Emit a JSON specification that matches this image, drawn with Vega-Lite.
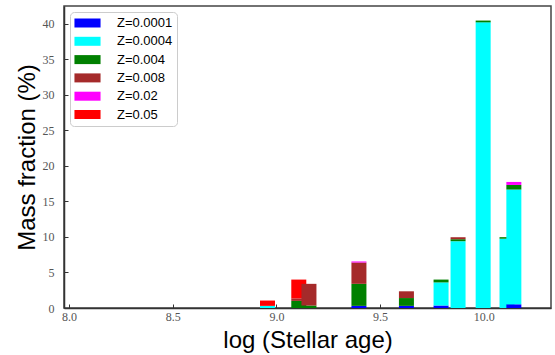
{
  "$schema": "https://vega.github.io/schema/vega-lite/v6.json",
  "width": 487,
  "height": 302,
  "autosize": {"type": "none"},
  "padding": {"left": 64, "top": 6, "right": 4, "bottom": 47},
  "background": "white",
  "data": {
    "values": [
      {"age": 8.957, "Z": "Z=0.0004", "frac": 0.3},
      {"age": 8.957, "Z": "Z=0.05", "frac": 0.75},
      {"age": 9.108, "Z": "Z=0.004", "frac": 1.0},
      {"age": 9.108, "Z": "Z=0.008", "frac": 0.35},
      {"age": 9.108, "Z": "Z=0.05", "frac": 2.65},
      {"age": 9.157, "Z": "Z=0.004", "frac": 0.35},
      {"age": 9.157, "Z": "Z=0.008", "frac": 3.05},
      {"age": 9.398, "Z": "Z=0.0001", "frac": 0.3},
      {"age": 9.398, "Z": "Z=0.004", "frac": 3.1},
      {"age": 9.398, "Z": "Z=0.008", "frac": 3.0},
      {"age": 9.398, "Z": "Z=0.02", "frac": 0.15},
      {"age": 9.627, "Z": "Z=0.0001", "frac": 0.3},
      {"age": 9.627, "Z": "Z=0.004", "frac": 1.1},
      {"age": 9.627, "Z": "Z=0.008", "frac": 0.95},
      {"age": 9.794, "Z": "Z=0.0001", "frac": 0.35},
      {"age": 9.794, "Z": "Z=0.0004", "frac": 3.25},
      {"age": 9.794, "Z": "Z=0.004", "frac": 0.4},
      {"age": 9.876, "Z": "Z=0.0004", "frac": 9.4},
      {"age": 9.876, "Z": "Z=0.004", "frac": 0.28},
      {"age": 9.876, "Z": "Z=0.008", "frac": 0.28},
      {"age": 9.997, "Z": "Z=0.0004", "frac": 40.2},
      {"age": 9.997, "Z": "Z=0.004", "frac": 0.25},
      {"age": 10.112, "Z": "Z=0.0004", "frac": 9.75},
      {"age": 10.112, "Z": "Z=0.004", "frac": 0.22},
      {"age": 10.145, "Z": "Z=0.0001", "frac": 0.52},
      {"age": 10.145, "Z": "Z=0.0004", "frac": 16.15},
      {"age": 10.145, "Z": "Z=0.004", "frac": 0.65},
      {"age": 10.145, "Z": "Z=0.02", "frac": 0.42}
    ]
  },
  "mark": {"type": "bar", "size": 15, "opacity": 1},
  "encoding": {
    "x": {
      "field": "age",
      "type": "quantitative",
      "scale": {"domain": [8.0, 10.3], "nice": false, "zero": false},
      "axis": {
        "title": "log (Stellar age)",
        "values": [8.0, 8.5, 9.0, 9.5, 10.0],
        "format": ".1f",
        "labelPadding": 7,
        "titlePadding": 6
      }
    },
    "y": {
      "field": "frac",
      "type": "quantitative",
      "stack": "zero",
      "scale": {"domain": [0, 42.5], "nice": false},
      "axis": {
        "title": "Mass fraction (%)",
        "values": [0, 5, 10, 15, 20, 25, 30, 35, 40],
        "format": "d",
        "labelPadding": 14,
        "titlePadding": 3
      }
    },
    "color": {
      "field": "Z",
      "type": "nominal",
      "scale": {
        "domain": ["Z=0.0001", "Z=0.0004", "Z=0.004", "Z=0.008", "Z=0.02", "Z=0.05"],
        "range": ["#0000ff", "#00ffff", "#008000", "#a52a2a", "#ff00ff", "#ff0000"]
      },
      "legend": {
        "title": null,
        "orient": "top-left",
        "offset": 6
      }
    },
    "order": {"field": "Z", "sort": "ascending"}
  },
  "config": {
    "view": {"stroke": "#444", "strokeWidth": 1.5},
    "axis": {
      "grid": false,
      "domainColor": "#333",
      "domainWidth": 1.5,
      "tickColor": "#333",
      "tickSize": -4,
      "tickWidth": 1,
      "labelFont": "Liberation Serif",
      "labelFontSize": 12,
      "labelColor": "#555",
      "titleFont": "Liberation Sans",
      "titleFontSize": 24,
      "titleFontWeight": "normal",
      "titleColor": "#000"
    },
    "legend": {
      "padding": 4.5,
      "strokeColor": "#cccccc",
      "fillColor": "white",
      "cornerRadius": 4,
      "symbolType": "M-2.9,-1H2.9V1H-2.9Z",
      "symbolSize": 81,
      "symbolStrokeWidth": 0,
      "symbolOpacity": 1,
      "symbolOffset": 6.5,
      "labelOffset": 23,
      "rowPadding": 4.3,
      "labelFont": "Liberation Sans",
      "labelFontSize": 13,
      "labelColor": "#000"
    }
  }
}
